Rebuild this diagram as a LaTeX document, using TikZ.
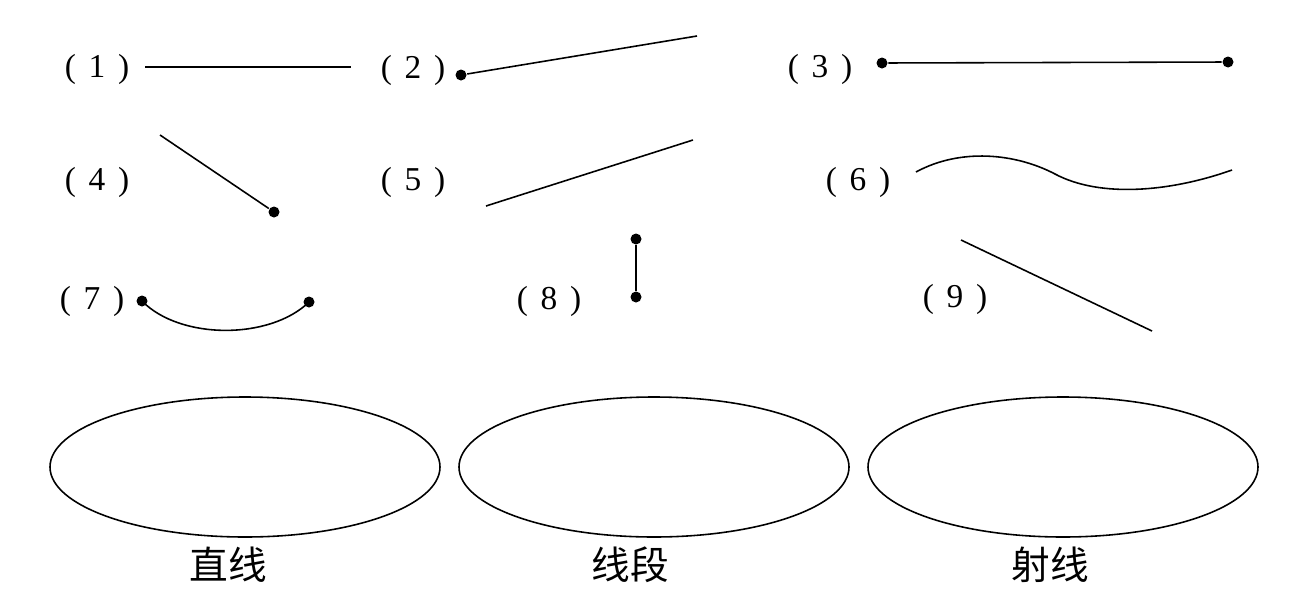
\documentclass[tikz,border=0pt]{standalone}
\usepackage{fontspec}
\setmainfont{Liberation Serif}
\newfontfamily\cjk{Noto Sans CJK SC}
\usetikzlibrary{shapes.geometric, positioning}

\begin{document}
\begin{tikzpicture}[x=0.2mm, y=-0.2mm, line width=0.9pt]
		\tikzstyle{dot} = [circle, fill, inner sep=0pt, minimum size=2.2mm]
		\tikzstyle{num} = [inner sep=0pt, font=\fontsize{19}{19}\selectfont]
		\tikzstyle{kind} = [ellipse, draw, minimum width=78mm, minimum height=28mm]
		\tikzstyle{kindname} = [inner sep=0pt, font=\cjk\fontsize{22}{22}\selectfont]
		\newcommand{\numtag}[1]{(\hspace{0.38em}#1\hspace{0.38em})}
		\useasboundingbox (0,0) rectangle (1299,598);
		
		% row 1
		\node [num] (n1) at (97,69) {\numtag{1}};
		\coordinate (a1) at (145,67);
		\coordinate (b1) at (351,67);
		\draw (a1) -- (b1);
		
		\node [num] (n2) at (413,70) {\numtag{2}};
		\node [dot] (a2) at (461,75) {};
		\coordinate (b2) at (697,36);
		\draw (a2) -- (b2);
		
		\node [num] (n3) at (820,69) {\numtag{3}};
		\node [dot] (a3) at (882,63) {};
		\node [dot] (b3) at (1228,62) {};
		\draw (a3) -- (b3);
		
		% row 2
		\node [num] (n4) at (97,182) {\numtag{4}};
		\coordinate (a4) at (160,135);
		\node [dot] (b4) at (274,212) {};
		\draw (a4) -- (b4);
		
		\node [num] (n5) at (413,182) {\numtag{5}};
		\coordinate (a5) at (486,206);
		\coordinate (b5) at (693,140);
		\draw (a5) -- (b5);
		
		\node [num] (n6) at (858,182) {\numtag{6}};
		\coordinate (a6) at (916,172);
		\coordinate (m6) at (1055,174);
		\coordinate (b6) at (1232,170);
		\draw (a6) .. controls (960,148) and (1015,153) .. (m6)
			.. controls (1100,198) and (1170,192) .. (b6);
		
		% row 3
		\node [num] (n7) at (92,301) {\numtag{7}};
		\node [dot] (a7) at (142,301) {};
		\node [dot] (b7) at (309,302) {};
		\draw (a7.center) .. controls (180,340) and (270,340) .. (b7.center);
		
		\node [num] (n8) at (549,301) {\numtag{8}};
		\node [dot] (a8) at (636,239) {};
		\node [dot] (b8) at (636,297) {};
		\draw (a8) -- (b8);
		
		\node [num] (n9) at (955,299) {\numtag{9}};
		\coordinate (a9) at (961,240);
		\coordinate (b9) at (1152,331);
		\draw (a9) -- (b9);
		
		% sorting boxes
		\node [kind] (line) at (245,467) {};
		\node [kind] (segment) at (654,467) {};
		\node [kind] (ray) at (1063,467) {};
		
		\node [kindname] (lname) at (228,565) {直线};
		\node [kindname] (sname) at (630,565) {线段};
		\node [kindname] (rname) at (1050,565) {射线};
	\end{tikzpicture}
\end{document}
